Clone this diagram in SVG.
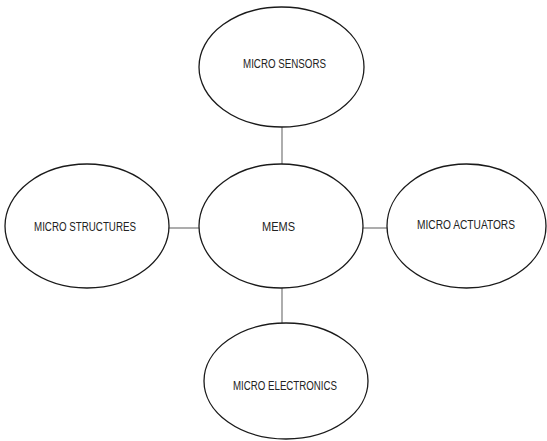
<svg xmlns="http://www.w3.org/2000/svg" width="547" height="441" viewBox="0 0 547 441">
<style>
.n{fill:#fff;stroke:#1a1a1a;stroke-width:1.3}
.t{font-family:"Liberation Sans",Arial,sans-serif;font-size:12px;fill:#222;text-anchor:middle}
.c{stroke:#777;stroke-width:1.2;fill:none}
</style>
<rect width="547" height="441" fill="#fff"/>
<g id="connectors">
<line class="c" x1="282" y1="127" x2="282" y2="164"/>
<line class="c" x1="169" y1="228" x2="199" y2="228"/>
<line class="c" x1="363" y1="228" x2="387" y2="228"/>
<line class="c" x1="282" y1="288" x2="282" y2="323"/>
</g>
<g id="sensors"><ellipse class="n" cx="281.5" cy="67" rx="82.5" ry="60"/><text class="t" x="284.5" y="68" textLength="83" lengthAdjust="spacingAndGlyphs">MICRO SENSORS</text></g>
<g id="structures"><ellipse class="n" cx="87" cy="226" rx="82" ry="62"/><text class="t" x="85" y="231" textLength="102" lengthAdjust="spacingAndGlyphs">MICRO STRUCTURES</text></g>
<g id="mems"><ellipse class="n" cx="281" cy="226" rx="82" ry="62"/><text class="t" x="278.5" y="231" textLength="33" lengthAdjust="spacingAndGlyphs">MEMS</text></g>
<g id="actuators"><ellipse class="n" cx="466.5" cy="226" rx="79.5" ry="62"/><text class="t" x="466" y="229" textLength="98" lengthAdjust="spacingAndGlyphs">MICRO ACTUATORS</text></g>
<g id="electronics"><ellipse class="n" cx="286" cy="381" rx="82" ry="58"/><text class="t" x="285" y="390" textLength="104" lengthAdjust="spacingAndGlyphs">MICRO ELECTRONICS</text></g>
</svg>
